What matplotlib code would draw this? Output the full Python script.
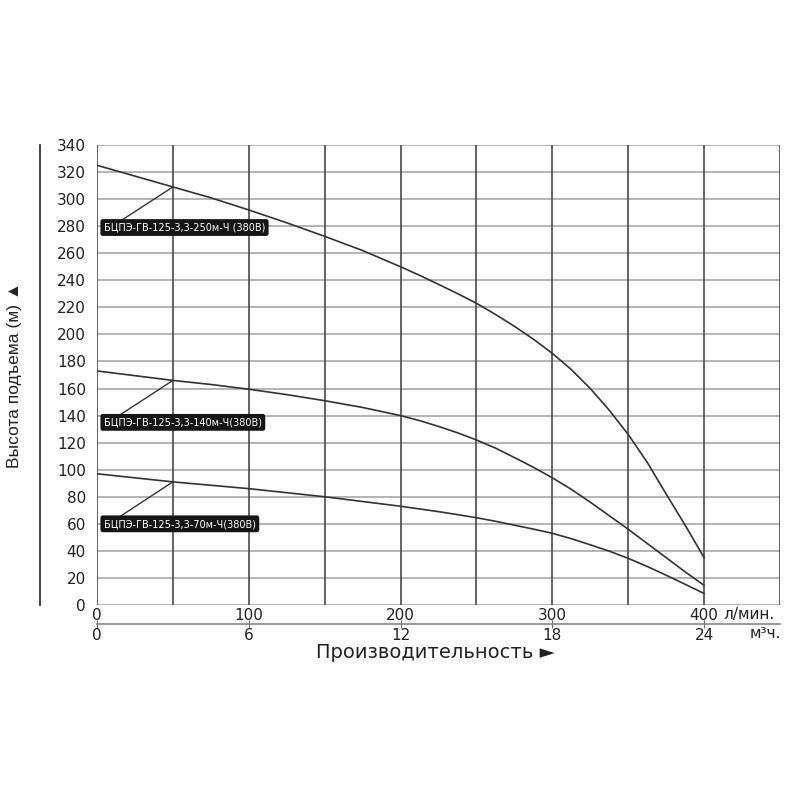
import matplotlib
matplotlib.use("Agg")
import matplotlib.pyplot as plt
from matplotlib.lines import Line2D

# ---- data ----
flow_lpm = [0, 25, 50, 75, 100, 125, 150, 175, 200, 212.5, 225, 237.5, 250, 262.5, 275, 287.5,
            300, 312.5, 325, 337.5, 350, 362.5, 375, 387.5, 400]
head_250 = [325, 317, 309, 301, 292, 282.5, 272.5, 262, 250, 243.7, 237, 230.2, 223, 214.8, 206, 196.5,
            186, 174, 160, 144, 126, 105.5, 82, 59, 35]
head_140 = [173, 169.5, 166, 163, 159.5, 155.5, 151, 146, 140, 136.3, 132, 127.3, 122, 116, 109, 101.8,
            94, 85.5, 76, 66, 56, 45.5, 35, 24.5, 14.5]
head_70 = [97, 94, 91, 88.5, 86, 83, 80, 76.5, 73, 71, 69, 66.8, 64.5, 61.9, 59, 56.1,
           53, 49, 44.5, 39.8, 34.5, 28.5, 22, 15.3, 8.5]

model_names = ["БЦПЭ-ГВ-125-3,3-250м-Ч (380В)",
               "БЦПЭ-ГВ-125-3,3-140м-Ч(380В)",
               "БЦПЭ-ГВ-125-3,3-70м-Ч(380В)"]
label_y = [279, 135, 60]
pointer_start = [283.5, 140.4, 65.3]
pointer_end = [309, 166, 91]

x_ticks_lpm = [0, 100, 200, 300, 400]
x_ticks_m3h = [0, 6, 12, 18, 24]
y_ticks = list(range(0, 341, 20))

# ---- figure ----
fig = plt.figure(figsize=(8, 8), dpi=100)
ax = fig.add_axes([97/800, 1-605/800, (780-97)/800, (605-145)/800])
ax.set_xlim(0, 450)
ax.set_ylim(0, 340)

vcol = "#4a4a4a"
hcol = "#b4b4b4"
for xv in range(0, 451, 50):
    ax.axvline(xv, color=vcol, lw=1.2, zorder=1)
for yv in y_ticks:
    ax.axhline(yv, color=hcol, lw=1.4, zorder=0.9)
for s in ax.spines.values():
    s.set_visible(False)

curve_col = "#333333"
for h in (head_250, head_140, head_70):
    ax.plot(flow_lpm, h, color=curve_col, lw=1.2, zorder=3, solid_joinstyle="round")

for name, ly, ps, pe in zip(model_names, label_y, pointer_start, pointer_end):
    ax.plot([15, 50], [ps, pe], color=curve_col, lw=1.0, zorder=3)
    ax.text(4.5, ly, name, color="white", fontsize=7, family="DejaVu Sans",
            va="center", ha="left", zorder=5,
            bbox=dict(boxstyle="round,pad=0.35,rounding_size=0.25",
                      facecolor="#151515", edgecolor="none"))

# y ticks
ax.set_yticks(y_ticks)
ax.set_yticklabels([str(v) for v in y_ticks], fontsize=11, family="DejaVu Sans", color="#222222")
ax.tick_params(axis="y", length=0, pad=8)

# x ticks (l/min)
ax.set_xticks(x_ticks_lpm)
ax.set_xticklabels([str(v) for v in x_ticks_lpm], fontsize=11, family="DejaVu Sans", color="#222222")
ax.tick_params(axis="x", length=0, pad=2)

# secondary axis (m3/h)
sec = ax.secondary_xaxis(-19/460, functions=(lambda x: x*6/100, lambda x: x*100/6))
sec.set_xticks(x_ticks_m3h)
sec.set_xticklabels([str(v) for v in x_ticks_m3h], fontsize=11, family="DejaVu Sans", color="#222222")
sec.tick_params(axis="x", length=6, direction="inout", color="#666666", pad=0)
for k, s in sec.spines.items():
    if k == "bottom":
        s.set_color("#888888")
        s.set_linewidth(1.2)

fig.text(723/800, 1-615/800, "л/мин.", fontsize=11, family="DejaVu Sans",
         ha="left", va="center", color="#222222")
fig.text(750/800, 1-633/800, "м³ч.", fontsize=11, family="DejaVu Sans",
         ha="left", va="center", color="#222222")

fig.text(435/800, 1-653/800, "Производительность ►", fontsize=14,
         family="DejaVu Sans", ha="center", va="center", color="#222222")

fig.text(15/800, 1-375/800, "Высота подъема (м) ▲", fontsize=12.5, rotation=90,
         family=["Liberation Sans", "DejaVu Sans"], ha="center", va="center",
         color="#222222")

fig.add_artist(Line2D([40/800, 40/800], [1-145/800, 1-605/800], color="#222222", lw=1.2))

fig.savefig("out.png", dpi=100, facecolor="white")
